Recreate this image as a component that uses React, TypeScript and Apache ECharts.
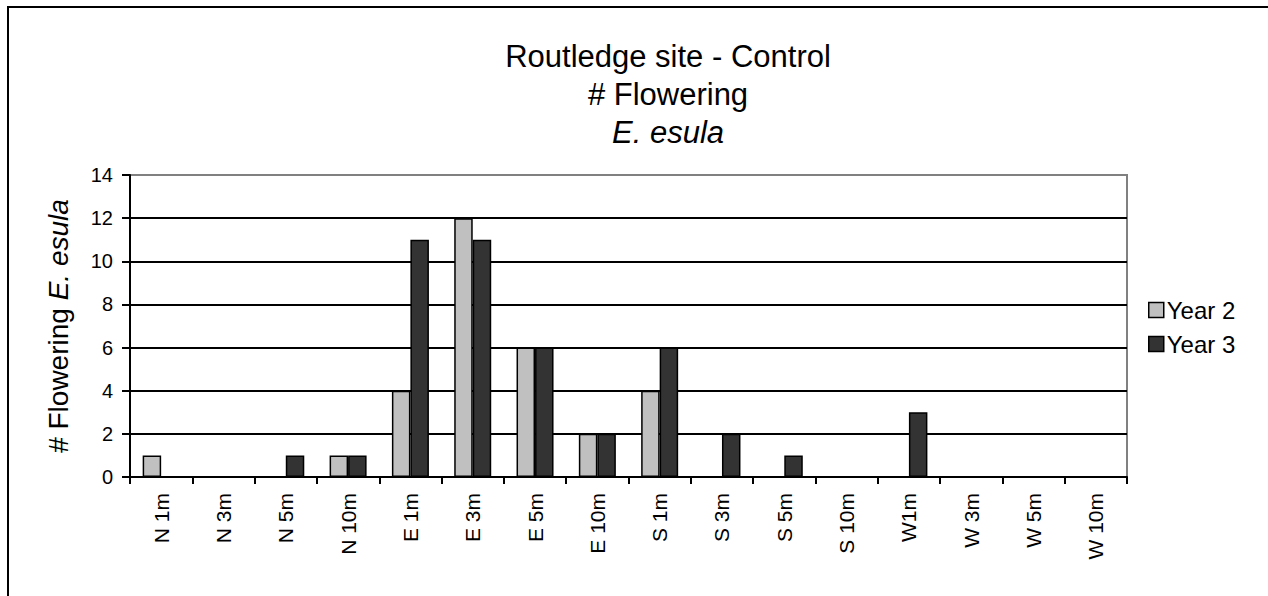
import React, { useEffect, useRef } from "react";
import * as echarts from "echarts";

const categories = ["N 1m", "N 3m", "N 5m", "N 10m", "E 1m", "E 3m", "E 5m", "E 10m", "S 1m", "S 3m", "S 5m", "S 10m", "W1m", "W 3m", "W 5m", "W 10m"];
const year2 = [1, 0, 0, 1, 4, 12, 6, 2, 4, 0, 0, 0, 0, 0, 0, 0];
const year3 = [0, 0, 1, 1, 11, 11, 6, 2, 6, 2, 1, 0, 3, 0, 0, 0];
const seriesNames = ["Year 2", "Year 3"];
const yTicks = { min: 0, max: 14, interval: 2 };

const FONT = "'Liberation Sans', Arial, Helvetica, sans-serif";

export default function App() {
  const ref = useRef<HTMLDivElement>(null);
  useEffect(() => {
    if (!ref.current) return;
    const chart = echarts.init(ref.current, null, { renderer: "svg" });
    chart.setOption({
      animation: false,
      backgroundColor: "#fff",
      textStyle: { fontFamily: FONT, color: "#000" },
      title: {
        text: "{a|Routledge site - Control}\n{a|# Flowering}\n{i|E. esula}",
        left: 668,
        top: 37,
        padding: 0,
        textAlign: "center",
        textStyle: {
          fontFamily: FONT,
          fontWeight: "normal",
          color: "#000",
          rich: {
            a: { fontSize: 31, lineHeight: 38, fontFamily: FONT, color: "#000", align: "center" },
            i: { fontSize: 31, lineHeight: 38, fontStyle: "italic", fontFamily: FONT, color: "#000", align: "center" },
          },
        },
      },
      legend: {
        orient: "vertical",
        left: 1148,
        top: 298,
        padding: 0,
        itemWidth: 15,
        itemHeight: 15,
        itemGap: 10,
        icon: "rect",
        textStyle: { fontFamily: FONT, fontSize: 24, color: "#000", padding: [0, 0, 0, -2] },
        itemStyle: { borderColor: "#000", borderWidth: 1.5 },
        data: seriesNames,
      },
      grid: {
        left: 130,
        right: 141,
        top: 175,
        bottom: 119,
        show: true,
        borderColor: "#808080",
        borderWidth: 2,
        backgroundColor: "transparent",
        containLabel: false,
        outerBoundsMode: "none",
      },
      xAxis: {
        type: "category",
        data: categories,
        boundaryGap: true,
        axisLine: { lineStyle: { color: "#000", width: 2 } },
        axisTick: { show: true, alignWithLabel: false, length: 7, lineStyle: { color: "#000", width: 2 } },
        axisLabel: { rotate: 90, fontSize: 21, fontFamily: FONT, color: "#000", margin: 16, interval: 0 },
        splitLine: { show: false },
      },
      yAxis: {
        type: "value",
        min: yTicks.min,
        max: yTicks.max,
        interval: yTicks.interval,
        name: "# Flowering {i|E. esula}",
        nameLocation: "middle",
        nameRotate: 90,
        nameGap: 58,
        nameTextStyle: {
          fontSize: 28,
          fontFamily: FONT,
          color: "#000",
          rich: { i: { fontSize: 28, fontStyle: "italic", fontFamily: FONT, color: "#000" } },
        },
        axisLine: { show: true, lineStyle: { color: "#000", width: 2 } },
        axisTick: { show: true, length: 8, lineStyle: { color: "#000", width: 2 } },
        axisLabel: { fontSize: 20, fontFamily: FONT, color: "#000", margin: 17 },
        splitLine: {
          show: true,
          lineStyle: { color: ["#000", "#000", "#000", "#000", "#000", "#000", "#000", "#808080"], width: 2 },
        },
      },
      graphic: [
        {
          type: "rect",
          shape: { x: 8, y: 7, width: 1400, height: 800 },
          style: { fill: "none", stroke: "#000", lineWidth: 2 },
          silent: true,
        },
      ],
      series: [
        {
          name: seriesNames[0],
          type: "bar",
          data: year2,
          barWidth: 18.5,
          barGap: "0%",
          itemStyle: { color: "#C0C0C0", borderColor: "#000", borderWidth: 1.5 },
        },
        {
          name: seriesNames[1],
          type: "bar",
          data: year3,
          barWidth: 18.5,
          barGap: "0%",
          itemStyle: { color: "#333333", borderColor: "#000", borderWidth: 1.5 },
        },
      ],
    });
    return () => chart.dispose();
  }, []);
  return <div ref={ref} style={{ position: "fixed", left: 0, top: 0, width: 1268, height: 596 }} />;
}
